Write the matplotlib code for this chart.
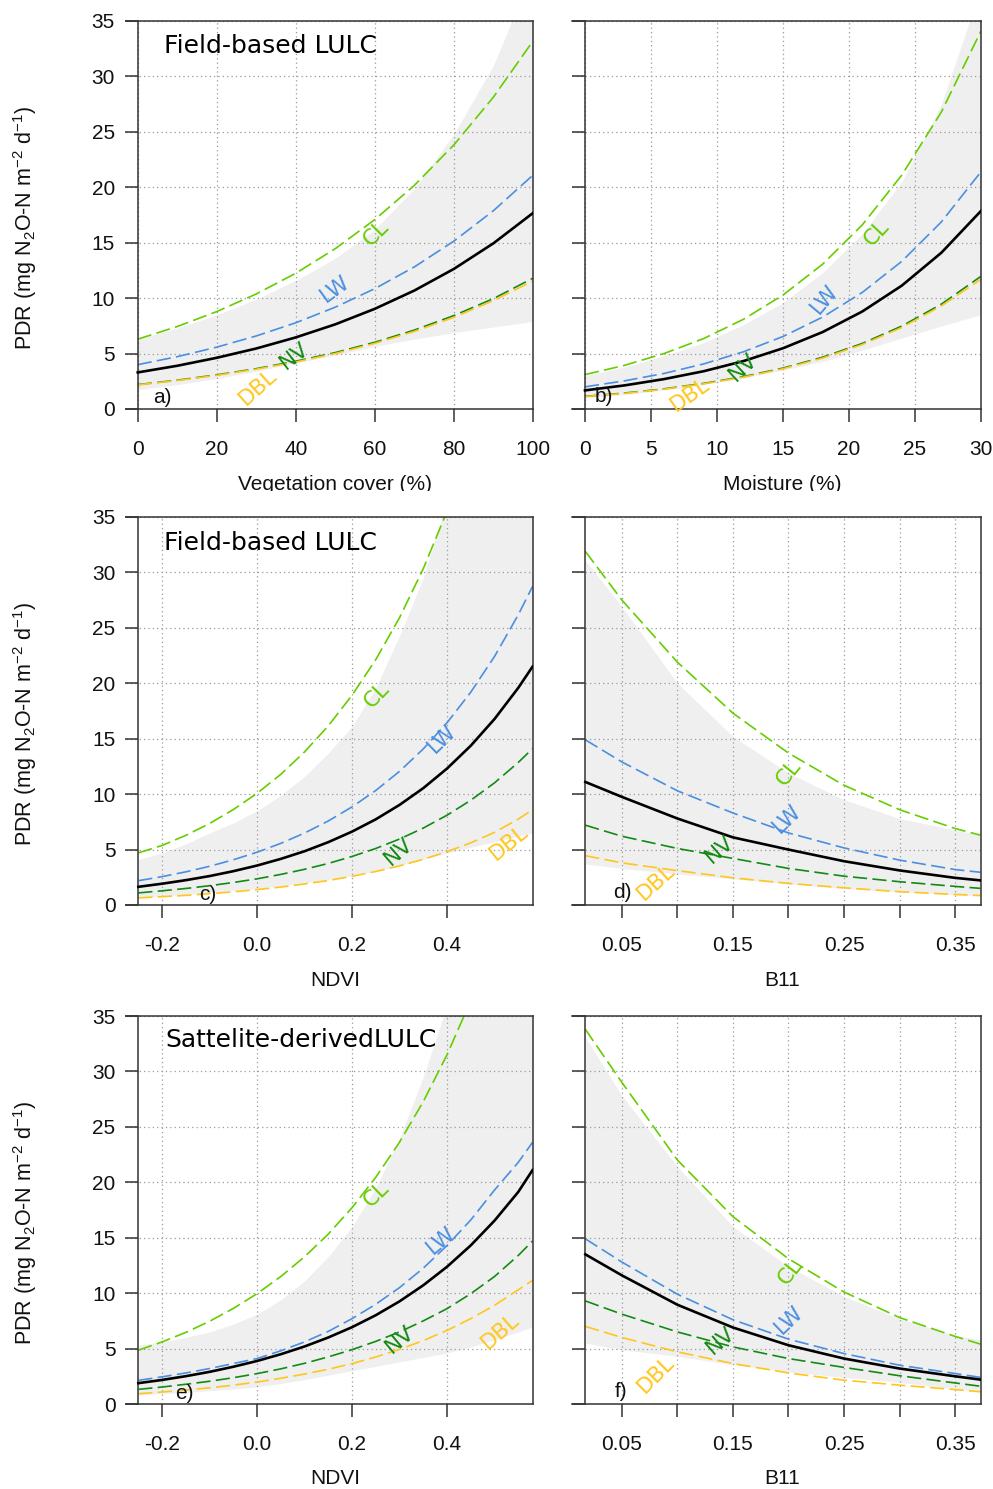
import matplotlib
matplotlib.use("Agg")
import matplotlib.pyplot as plt
from matplotlib.transforms import Bbox, TransformedBbox

plt.rcParams['font.family'] = ['Liberation Sans', 'DejaVu Sans']
plt.rcParams['mathtext.fontset'] = 'custom'
plt.rcParams['mathtext.rm'] = 'Liberation Sans'
plt.rcParams['mathtext.it'] = 'Liberation Sans:italic'

# ---- a) vegetation cover ----
veg_x = [0, 10, 20, 30, 40, 50, 60, 70, 80, 90, 100]
veg_mean = [3.30, 3.90, 4.62, 5.46, 6.46, 7.64, 9.04, 10.69, 12.64, 14.95, 17.68]
veg_lo = [1.75, 2.2, 2.75, 3.4, 4.15, 4.85, 5.65, 6.3, 6.9, 7.4, 7.9]
veg_hi = [6.3, 7.3, 8.5, 9.9, 11.6, 13.6, 16.2, 19.9, 24.8, 31.0, 39.6]
veg_cl = [6.30, 7.44, 8.79, 10.38, 12.25, 14.47, 17.09, 20.18, 23.83, 28.14, 33.2]
veg_lw = [4.00, 4.72, 5.58, 6.59, 7.78, 9.19, 10.86, 12.82, 15.15, 17.89, 21.1]
veg_nv = [2.20, 2.60, 3.08, 3.64, 4.31, 5.09, 6.02, 7.12, 8.43, 9.96, 11.8]
veg_dbl = [2.18, 2.57, 3.04, 3.59, 4.24, 5.01, 5.92, 7.00, 8.27, 9.78, 11.55]

# ---- b) moisture ----
moi_x = [0, 3, 6, 9, 12, 15, 18, 21, 24, 27, 30]
moi_mean = [1.68, 2.13, 2.70, 3.41, 4.32, 5.48, 6.94, 8.79, 11.13, 14.10, 17.87]
moi_lo = [1.0, 1.3, 1.7, 2.2, 2.8, 3.5, 4.3, 5.3, 6.4, 7.5, 8.5]
moi_hi = [3.0, 3.8, 4.8, 6.0, 7.6, 9.6, 12.3, 15.8, 20.5, 27.5, 38.0]
moi_cl = [3.10, 3.94, 5.01, 6.36, 8.09, 10.28, 13.06, 16.6, 21.1, 26.8, 34.1]
moi_lw = [2.00, 2.54, 3.21, 4.07, 5.16, 6.54, 8.29, 10.51, 13.32, 16.88, 21.4]
moi_nv = [1.14, 1.44, 1.82, 2.31, 2.92, 3.69, 4.67, 5.91, 7.48, 9.46, 11.97]
moi_dbl = [1.12, 1.41, 1.79, 2.27, 2.87, 3.63, 4.59, 5.81, 7.35, 9.30, 11.7]

# ---- c) NDVI, field-based ----
ndvi_x = [-0.25, -0.2, -0.15, -0.1, -0.05, 0.0, 0.05, 0.1, 0.15, 0.2,
          0.25, 0.3, 0.35, 0.4, 0.45, 0.5, 0.55, 0.58]
ndf_mean = [1.64, 1.92, 2.24, 2.61, 3.05, 3.56, 4.16, 4.85, 5.67, 6.62,
            7.73, 9.03, 10.54, 12.31, 14.37, 16.78, 19.59, 21.5]
ndf_lo = [0.7, 0.8, 0.95, 1.1, 1.3, 1.5, 1.75, 2.0, 2.3, 2.65,
          3.05, 3.55, 4.1, 4.7, 5.2, 5.7, 6.2, 6.5]
ndf_hi = [4.1, 4.7, 5.5, 6.5, 7.4, 8.5, 9.9, 11.6, 13.7, 16.1,
          19.6, 24.3, 29.5, 36.5, 46, 58, 73, 84]
ndf_cl = [4.7, 5.37, 6.28, 7.35, 8.61, 10.07, 11.79, 13.81, 16.16, 18.92,
          22.14, 25.92, 30.34, 35.52, 41.6, 48.7, 57.0, 62.6]
ndf_lw = [2.19, 2.56, 2.99, 3.49, 4.08, 4.76, 5.56, 6.49, 7.58, 8.85,
          10.33, 12.06, 14.08, 16.44, 19.20, 22.42, 26.18, 28.73]
ndf_nv = [1.09, 1.28, 1.49, 1.74, 2.03, 2.36, 2.76, 3.22, 3.75, 4.38,
          5.10, 5.95, 6.94, 8.10, 9.45, 11.02, 12.86, 14.10]
ndf_dbl = [0.64, 0.75, 0.87, 1.02, 1.19, 1.39, 1.62, 1.90, 2.21, 2.59,
           3.02, 3.53, 4.12, 4.81, 5.61, 6.55, 7.75, 8.6]

# ---- d) B11, field-based ----
b11_x = [0.017, 0.05, 0.1, 0.15, 0.2, 0.25, 0.3, 0.35, 0.373]
bf_mean = [11.1, 9.75, 7.8, 6.1, 5.0, 3.95, 3.12, 2.45, 2.22]
bf_lo = [3.7, 3.3, 2.8, 2.35, 1.9, 1.5, 1.2, 0.95, 0.85]
bf_hi = [31.1, 26.9, 20.0, 15.2, 11.9, 9.5, 7.8, 6.77, 6.3]
bf_cl = [31.9, 27.5, 21.9, 17.3, 13.7, 10.8, 8.6, 6.9, 6.3]
bf_lw = [14.9, 12.9, 10.3, 8.3, 6.5, 5.15, 4.05, 3.2, 2.95]
bf_nv = [7.2, 6.2, 5.1, 4.2, 3.3, 2.6, 2.1, 1.68, 1.5]
bf_dbl = [4.45, 3.8, 3.1, 2.45, 1.95, 1.55, 1.2, 0.95, 0.85]

# ---- e) NDVI, satellite-derived ----
nds_mean = [1.88, 2.17, 2.51, 2.90, 3.36, 3.88, 4.49, 5.19, 6.00, 6.93,
            8.01, 9.26, 10.71, 12.38, 14.31, 16.54, 19.13, 21.1]
nds_lo = [0.8, 0.95, 1.05, 1.2, 1.35, 1.55, 1.85, 2.2, 2.6, 3.0,
          3.4, 3.8, 4.2, 4.6, 5.15, 5.8, 6.5, 6.95]
nds_hi = [5.3, 5.6, 6.0, 6.5, 7.2, 8.1, 9.4, 11.1, 13.3, 16.0,
          19.5, 24.0, 29.5, 36.0, 45, 56, 69, 78]
nds_cl = [4.85, 5.60, 6.46, 7.46, 8.62, 9.95, 11.50, 13.28, 15.33, 17.71,
          20.45, 23.62, 27.28, 31.50, 36.4, 42.0, 48.5, 52.9]
nds_lw = [2.13, 2.45, 2.8, 3.2, 3.65, 4.1, 4.8, 5.6, 6.55, 7.7,
          9.0, 10.5, 12.25, 14.3, 16.6, 19.3, 21.8, 23.6]
nds_nv = [1.32, 1.53, 1.78, 2.05, 2.37, 2.74, 3.17, 3.67, 4.25, 4.9,
          5.65, 6.5, 7.5, 8.6, 9.95, 11.5, 13.4, 14.7]
nds_dbl = [0.93, 1.08, 1.26, 1.46, 1.70, 1.98, 2.32, 2.70, 3.14, 3.64,
           4.24, 4.93, 5.72, 6.64, 7.7, 8.9, 10.3, 11.15]

# ---- f) B11, satellite-derived ----
bs_mean = [13.5, 11.6, 8.95, 6.9, 5.3, 4.1, 3.2, 2.5, 2.2]
bs_lo = [5.5, 4.9, 4.3, 3.55, 2.9, 2.4, 1.95, 1.35, 1.15]
bs_hi = [33.1, 27.8, 21.4, 16.0, 12.4, 9.7, 7.7, 6.2, 5.8]
bs_cl = [33.8, 29.0, 22.0, 16.9, 13.1, 10.1, 7.8, 6.1, 5.4]
bs_lw = [14.9, 12.8, 9.9, 7.6, 5.85, 4.55, 3.5, 2.75, 2.4]
bs_nv = [9.3, 8.1, 6.5, 5.15, 4.1, 3.3, 2.55, 1.9, 1.6]
bs_dbl = [7.0, 6.0, 4.7, 3.65, 2.8, 2.15, 1.7, 1.3, 1.1]

classes = ['CL', 'LW', 'NV', 'DBL']
class_colors = ['#66CD00', '#4A8FE0', '#138A13', '#FFC61E']

ndvi_ticks = [-0.2, 0.0, 0.2, 0.4]
ndvi_ticklabels = ['-0.2', '0.0', '0.2', '0.4']
b11_ticks = [0.05, 0.1, 0.15, 0.2, 0.25, 0.3, 0.35]
b11_ticklabels = ['0.05', '', '0.15', '', '0.25', '', '0.35']

W, H = 993, 1489
fig = plt.figure(figsize=(W / 100, H / 100), dpi=100)

col_left = [125.5, 572]
col_right = [533, 981]
row_top = [21, 517, 1016]
row_bot = [409, 905, 1404]

spine_col = '#333333'
ylab = 'PDR (mg N$_2$O-N m$^{-2}$ d$^{-1}$)'


def panel(r, c, x, mean, lo, hi, series, xlim, x0, xticks, xticklabels,
          xlabel, lab_pos, lab_rot, letter, letter_pos, title=None, title_xy=None):
    left = col_left[c] / W
    width = (col_right[c] - col_left[c]) / W
    bottom = 1 - row_bot[r] / H
    height = (row_bot[r] - row_top[r]) / H
    ax = fig.add_axes([left, bottom, width, height])
    ax.set_xlim(*xlim)
    ax.set_ylim(0, 35)

    ax.fill_between(x, lo, hi, color='#EFEFEF', lw=0, zorder=1)
    for vals, col in zip(series, class_colors):
        ax.plot(x, vals, color=col, lw=1.2, dashes=(8.5, 3.2), zorder=2)
    ax.plot(x, mean, color='black', lw=1.9, zorder=3)

    ax.set_axisbelow('line')
    ax.grid(True, linestyle=(0, (1, 2.5)), color='#9A9A9A', lw=0.9)

    ax.spines['left'].set_position(('data', x0))
    for s in ax.spines.values():
        s.set_color(spine_col)
        s.set_linewidth(1.1)

    ax.set_xticks(xticks)
    ax.set_xticklabels(xticklabels)
    ax.set_yticks(range(0, 36, 5))
    if c == 0:
        ax.set_yticklabels([str(v) for v in range(0, 36, 5)])
    else:
        ax.set_yticklabels([])
    ax.tick_params(direction='out', length=9.4, width=1.1, color=spine_col,
                   labelsize=15, labelcolor='#111111')
    ax.tick_params(axis='x', pad=13)
    ax.tick_params(axis='y', pad=7)

    for name, (lx, ly), rot, col in zip(classes, lab_pos, lab_rot, class_colors):
        ax.text(lx, ly, name, color=col, fontsize=15.5, family='DejaVu Sans',
                rotation=rot, ha='center', va='center', rotation_mode='anchor', zorder=4)
    ax.text(letter_pos[0], letter_pos[1], letter, fontsize=15, ha='center',
            va='center', color='#111111', zorder=4)
    if title:
        ax.text(title_xy[0], title_xy[1], title, transform=ax.transAxes,
                fontsize=18, family='DejaVu Sans', ha='left', va='center')

    # x axis label (first row is cut by the row below in the original)
    cx = (col_left[c] + col_right[c]) / 2 + 6
    t = fig.text(cx / W, 1 - (row_bot[r] + 75) / H, xlabel, fontsize=15,
                 ha='center', va='center', color='#111111')
    if r == 0:
        clip = TransformedBbox(Bbox.from_extents(0, 1 - 491 / H, 1, 1), fig.transFigure)
        t.set_clip_box(clip)
        t.set_clip_on(True)
    if c == 0:
        fig.text(25 / W, 1 - ((row_top[r] + row_bot[r]) / 2 + 13) / H, ylab,
                 rotation=90, fontsize=15.5, ha='center', va='center', color='#111111')
    return ax


panel(0, 0, veg_x, veg_mean, veg_lo, veg_hi, [veg_cl, veg_lw, veg_nv, veg_dbl],
      (-3.1, 100), 0, [0, 20, 40, 60, 80, 100], ['0', '20', '40', '60', '80', '100'],
      'Vegetation cover (%)',
      [(60.2, 15.9), (50.0, 10.8), (39.6, 4.8), (30.3, 2.0)], [45, 36, 38, 42],
      'a)', (6.3, 1.0), 'Field-based LULC', (0.0945, 0.9356))

panel(0, 1, moi_x, moi_mean, moi_lo, moi_hi, [moi_cl, moi_lw, moi_nv, moi_dbl],
      (-0.985, 30), 0, [0, 5, 10, 15, 20, 25, 30], ['0', '5', '10', '15', '20', '25', '30'],
      'Moisture (%)',
      [(22.1, 15.9), (18.1, 9.9), (12.0, 3.8), (8.0, 1.3)], [47, 50, 43, 35],
      'b)', (1.4, 1.1))

panel(1, 0, ndvi_x, ndf_mean, ndf_lo, ndf_hi, [ndf_cl, ndf_lw, ndf_nv, ndf_dbl],
      (-0.277, 0.581), -0.25, ndvi_ticks, ndvi_ticklabels, 'NDVI',
      [(0.252, 18.9), (0.39, 15.0), (0.298, 4.8), (0.53, 5.6)], [46, 44, 41, 39],
      'c)', (-0.103, 0.93), 'Field-based LULC', (0.0945, 0.933))

panel(1, 1, b11_x, bf_mean, bf_lo, bf_hi, [bf_cl, bf_lw, bf_nv, bf_dbl],
      (0.005, 0.3734), 0.017, b11_ticks, b11_ticklabels, 'B11',
      [(0.2, 11.9), (0.199, 7.8), (0.138, 5.0), (0.081, 2.1)], [51, 44, 41, 42],
      'd)', (0.05, 1.1))

panel(2, 0, ndvi_x, nds_mean, nds_lo, nds_hi, [nds_cl, nds_lw, nds_nv, nds_dbl],
      (-0.277, 0.581), -0.25, ndvi_ticks, ndvi_ticklabels, 'NDVI',
      [(0.252, 18.9), (0.388, 14.8), (0.30, 5.8), (0.512, 6.6)], [44, 40, 40, 41],
      'e)', (-0.153, 0.93), 'Sattelite-derivedLULC', (0.097, 0.938))

panel(2, 1, b11_x, bs_mean, bs_lo, bs_hi, [bs_cl, bs_lw, bs_nv, bs_dbl],
      (0.005, 0.3734), 0.017, b11_ticks, b11_ticklabels, 'B11',
      [(0.202, 11.9), (0.2, 7.6), (0.139, 5.7), (0.081, 2.7)], [52, 44, 41, 45],
      'f)', (0.049, 1.1))

fig.savefig('out.png', dpi=100)
